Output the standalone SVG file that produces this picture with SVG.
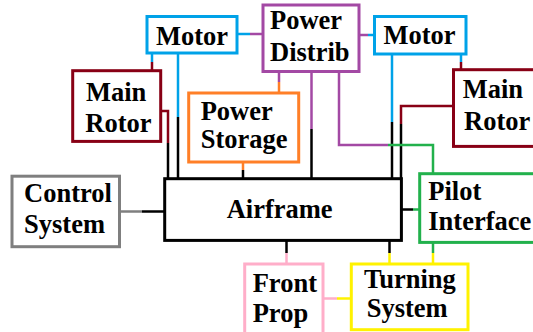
<svg xmlns="http://www.w3.org/2000/svg" width="533" height="332" viewBox="0 0 533 332">
<style>
.box{fill:#fff;stroke-width:3}
.c{fill:none;stroke-width:2.5}
.k{stroke:#000}.b{stroke:#00A2E8}.p{stroke:#A349A4}.r{stroke:#880015}.o{stroke:#FF7F27}.g{stroke:#7F7F7F}.gr{stroke:#22B14C}.y{stroke:#FFF200}.pk{stroke:#FFAEC9}
</style>
<rect width="533" height="332" fill="#fff"/>
<g id="connectors">
<line class="c b" x1="237" y1="34" x2="250" y2="34"/><line class="c p" x1="250" y1="34" x2="263" y2="34"/>
<line class="c b" x1="152" y1="53" x2="152" y2="62"/><line class="c r" x1="152" y1="62" x2="152" y2="71"/>
<line class="c b" x1="178" y1="53" x2="178" y2="117"/><line class="c k" x1="178" y1="117" x2="178" y2="179"/>
<polyline class="c r" points="161,111 168,111 168,143"/><line class="c k" x1="168" y1="143" x2="168" y2="179"/>
<line class="c p" x1="279" y1="71" x2="279" y2="82"/><line class="c o" x1="279" y1="82" x2="279" y2="93"/>
<line class="c p" x1="311.5" y1="71" x2="311.5" y2="129"/><line class="c k" x1="311.5" y1="129" x2="311.5" y2="179"/>
<line class="c p" x1="359" y1="35" x2="368" y2="35"/><line class="c b" x1="368" y1="35" x2="374.5" y2="35"/>
<line class="c b" x1="392" y1="54" x2="392" y2="122"/><line class="c k" x1="392" y1="122" x2="392" y2="179"/>
<line class="c b" x1="461" y1="54" x2="461" y2="62"/><line class="c r" x1="461" y1="62" x2="461" y2="70"/>
<polyline class="c r" points="453.5,106 401,106 401,124"/><line class="c k" x1="401" y1="124" x2="401" y2="179"/>
<polyline class="c p" points="339,71 339,145 388,145"/><polyline class="c gr" points="388,145 433,145 433,174"/>
<line class="c o" x1="243" y1="162" x2="243" y2="170"/><line class="c k" x1="243" y1="170" x2="243" y2="179"/>
<line class="c g" x1="119.5" y1="211.5" x2="142" y2="211.5"/><line class="c k" x1="142" y1="211.5" x2="164.7" y2="211.5"/>
<line class="c k" x1="401" y1="209.5" x2="413" y2="209.5"/><line class="c gr" x1="413" y1="209.5" x2="420" y2="209.5"/>
<line class="c k" x1="286.5" y1="240" x2="286.5" y2="253"/><line class="c pk" x1="286.5" y1="253" x2="286.5" y2="264"/>
<line class="c k" x1="389.5" y1="240" x2="389.5" y2="253"/><line class="c y" x1="389.5" y1="253" x2="389.5" y2="264"/>
<line class="c gr" x1="433" y1="242" x2="433" y2="253"/><line class="c y" x1="433" y1="253" x2="433" y2="264"/>
<line class="c pk" x1="323" y1="298.5" x2="337" y2="298.5"/><line class="c y" x1="337" y1="298.5" x2="351" y2="298.5"/>
</g>
<g font-family="Liberation Serif, Times New Roman, serif" font-weight="bold" font-size="26.5" fill="#000">
<g id="motor-left"><rect class="box" x="147" y="16.5" width="90" height="36.5" stroke="#00A2E8"/><text x="156" y="45">Motor</text></g>
<g id="power-distrib"><rect class="box" x="263" y="5" width="96" height="66.5" stroke="#A349A4"/><text x="270" y="28.5">Power</text><text x="270" y="60.5">Distrib</text></g>
<g id="motor-right"><rect class="box" x="374.5" y="16.5" width="91.5" height="37.5" stroke="#00A2E8"/><text x="383.5" y="44">Motor</text></g>
<g id="main-rotor-left"><rect class="box" x="72.7" y="70.7" width="88" height="70.7" stroke="#880015"/><text x="86" y="101">Main</text><text x="85.3" y="131.7">Rotor</text></g>
<g id="main-rotor-right"><rect class="box" x="453.5" y="69.7" width="100" height="76.7" stroke="#880015"/><text x="462.7" y="98.3">Main</text><text x="464" y="130">Rotor</text></g>
<g id="power-storage"><rect class="box" x="188.7" y="93" width="110" height="69" stroke="#FF7F27"/><text x="200.7" y="120">Power</text><text x="200.7" y="148.3">Storage</text></g>
<g id="control-system"><rect class="box" x="12" y="176.2" width="107.5" height="70.5" stroke="#7F7F7F"/><text x="24" y="201.7">Control</text><text x="24" y="232.7">System</text></g>
<g id="airframe"><rect class="box" x="164.7" y="178.7" width="236.7" height="61.7" stroke="#000"/><text x="226.7" y="218.3">Airframe</text></g>
<g id="pilot-interface"><rect class="box" x="419.7" y="173.7" width="130" height="68.7" stroke="#22B14C"/><text x="428.3" y="200">Pilot</text><text x="428.3" y="230">Interface</text></g>
<g id="front-prop"><rect class="box" x="244.7" y="264" width="78.3" height="80" stroke="#FFAEC9"/><text x="252.7" y="291.7">Front</text><text x="252.7" y="321.7">Prop</text></g>
<g id="turning-system"><rect class="box" x="351.3" y="264" width="116.7" height="65.7" stroke="#FFF200"/><text x="364" y="288.3">Turning</text><text x="366.7" y="316.7">System</text></g>
</g>
</svg>
